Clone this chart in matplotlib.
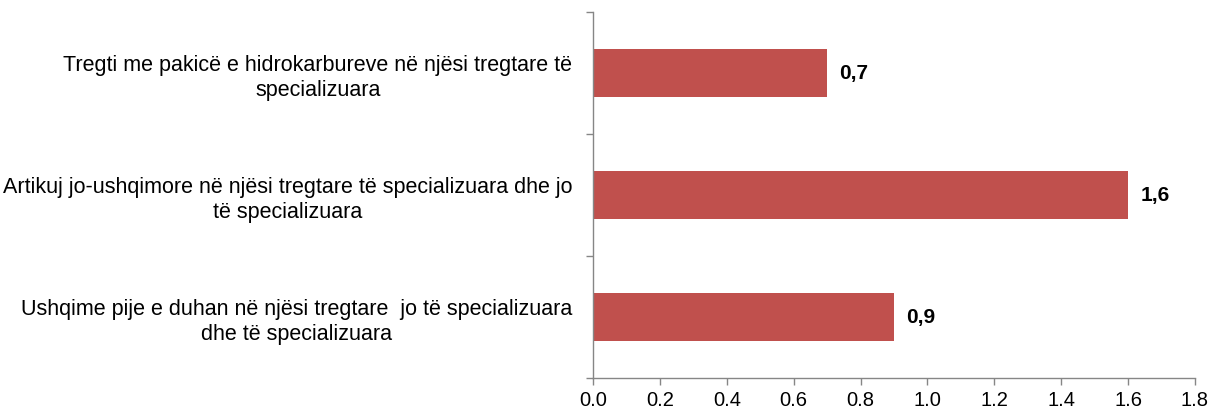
import matplotlib
matplotlib.use("Agg")
import matplotlib.pyplot as plt

categories = [
    "Tregti me pakicë e hidrokarbureve në njësi tregtare të\nspecializuara",
    "Artikuj jo-ushqimore në njësi tregtare të specializuara dhe jo\ntë specializuara",
    "Ushqime pije e duhan në njësi tregtare  jo të specializuara\ndhe të specializuara",
]
values = [0.7, 1.6, 0.9]
value_labels = ["0,7", "1,6", "0,9"]
xticks = [0.0, 0.2, 0.4, 0.6, 0.8, 1.0, 1.2, 1.4, 1.6, 1.8]

plt.rcParams['font.family'] = ['Liberation Sans', 'DejaVu Sans']

fig = plt.figure(figsize=(12.15, 4.14), dpi=100)
ax = fig.add_axes([593/1215, (414-379)/414, (1195-593)/1215, (379-13)/414])

pos = list(range(len(categories)))
ax.barh(pos, values, height=0.4, color='#C0504D')
ax.set_ylim(len(categories) - 0.5, -0.5)
ax.set_xlim(0, 1.8)

for p, v, lab in zip(pos, values, value_labels):
    ax.annotate(lab, (v, p), xytext=(9, 0), textcoords='offset points',
                ha='left', va='center', fontsize=15, fontweight='bold')

ax.set_xticks(xticks)
ax.set_xticklabels([f"{t:.1f}" for t in xticks], fontsize=14.5)
ax.set_yticks([-0.5, 0.5, 1.5, 2.5])
ax.set_yticklabels([])
ax.set_yticks(pos, minor=True)
ax.set_yticklabels(categories, minor=True, fontsize=15.5, ha='right',
                   multialignment='center', linespacing=1.2)
ax.tick_params(axis='y', which='minor', length=0, pad=15)
ax.tick_params(axis='y', which='major', length=5, color='#868686', width=1)
ax.tick_params(axis='x', length=5, color='#868686', width=1, pad=4)

for s in ['top', 'right']:
    ax.spines[s].set_visible(False)
for s in ['left', 'bottom']:
    ax.spines[s].set_color('#868686')
    ax.spines[s].set_linewidth(1)

fig.savefig('out.png', dpi=100)
